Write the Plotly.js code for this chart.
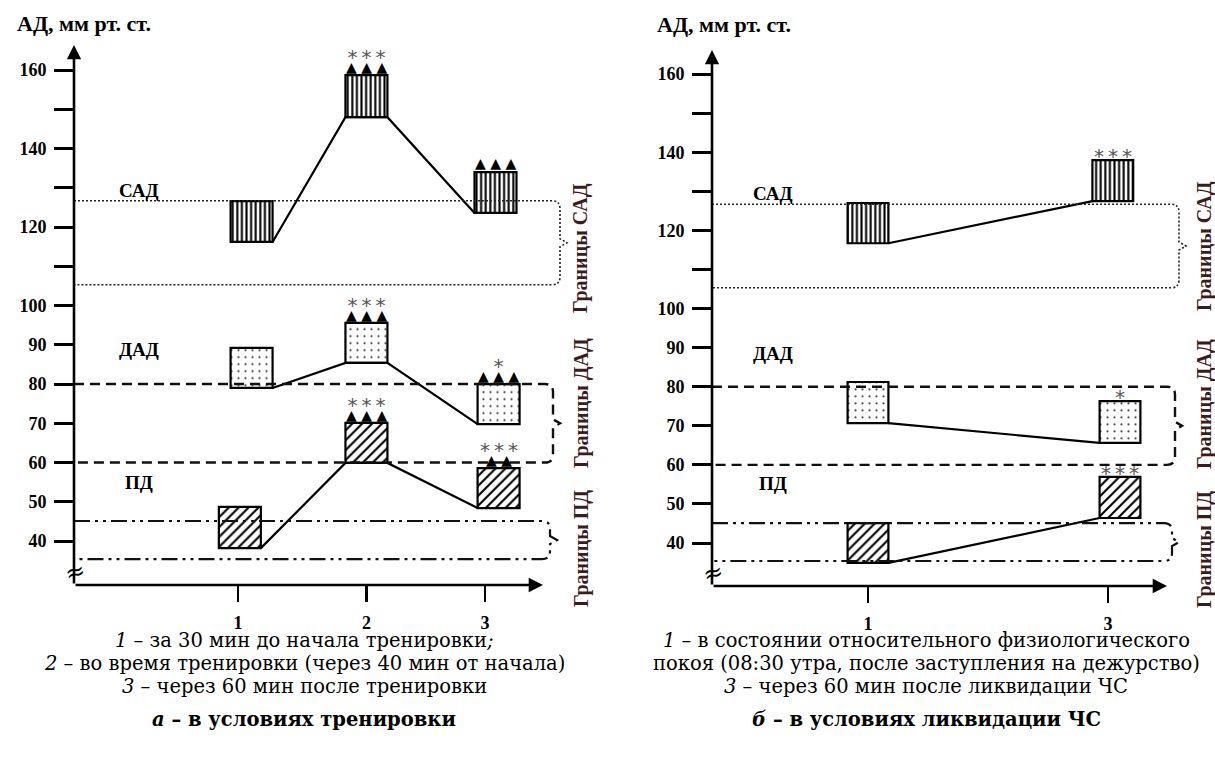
<!DOCTYPE html>
<html><head><meta charset="utf-8">
<script src="https://cdn.plot.ly/plotly-3.0.1.min.js"></script>
<style>html,body{margin:0;padding:0;background:#fff;} #chart{width:1215px;height:758px;}</style>
</head><body><div id="chart"></div>
<script>
// ===================== DATA =====================
// panel a – training
const timeLabelsA = ['1', '2', '3'];
const timePosA = [1, 2.04, 3];
const sadLowA  = [116.2, 148.0, 123.6];
const sadHighA = [126.6, 158.7, 134.0];
const dadLowA  = [79.0, 85.4, 69.8];
const dadHighA = [89.2, 95.6, 80.0];
const pdLowA   = [38.2, 59.9, 48.4];
const pdHighA  = [48.7, 70.1, 58.6];
const sadTriA  = ['', '▲▲▲', '▲▲▲'];
const sadStarA = ['', '***', ''];
const dadTriA  = ['', '▲▲▲', '▲▲▲'];
const dadStarA = ['', '***', '*'];
const pdTriA   = ['', '▲▲▲', '▲▲'];
const pdStarA  = ['', '***', '***'];

// panel b – emergency response
const timeLabelsB = ['1', '3'];
const timePosB = [1, 3];
const sadLowB  = [116.7, 127.5];
const sadHighB = [127.0, 138.0];
const dadLowB  = [70.7, 65.6];
const dadHighB = [81.2, 76.3];
const pdLowB   = [34.9, 46.4];
const pdHighB  = [45.1, 56.9];
const sadTriB  = ['', ''];
const sadStarB = ['', '***'];
const dadTriB  = ['', ''];
const dadStarB = ['', '*'];
const pdTriB   = ['', ''];
const pdStarB  = ['', '***'];

// normal bounds
const sadBounds = [105.3, 126.7];
const dadBounds = [60, 80];
const pdBounds  = [35.4, 45.1];

const yTickVals = [160, 150, 140, 130, 120, 110, 100, 90, 80, 70, 60, 50, 40];
const yTickText = ['160', '', '140', '', '120', '', '100', '90', '80', '70', '60', '50', '40'];

const regionNames = ['САД', 'ДАД', 'ПД'];
const boundNames = ['Границы САД', 'Границы ДАД', 'Границы ПД'];
const yTitle = 'АД, мм рт. ст.';
const captionA = ['<i>1</i> – за 30 мин до начала тренировки<i>;</i>',
                  '<i>2</i> – во время тренировки (через 40 мин от начала)',
                  '<i>3</i> – через 60 мин после тренировки',
                  '<b><i>а</i> – в условиях тренировки</b>'];
const captionB = ['<i>1</i> – в состоянии относительного физиологического',
                  'покоя (08:30 утра, после заступления на дежурство)',
                  '<i>3</i> – через 60 мин после ликвидации ЧС',
                  '<b><i>б</i> – в условиях ликвидации ЧС</b>'];

// ===================== LAYOUT / STYLE =====================
const W = 1215, H = 758;
const SERIF = 'Liberation Serif';
const CAPTION_FONT = 'DejaVu Serif';
const geomA = {axisX: 74, tick1X: 238, xPerUnit: 123.5, rightX: 600, bottomY: 585, yPerUnit: 3.925, yMin: 28.8, yMax: 168,
  yTipPx: 45, xTipPx: 543, boxW: 0.34,
  shift: {sad: [0.11, 0, 0.085], dad: [0.11, 0, 0.11], pd: [0.015, 0, 0.11]},
  bracketPx: {sad: 560, dad: 553, pd: 550}, labelX: 139, labelYPx: [190, 350, 482],
  boundX: 581, boundYPx: [248, 403, 549], headerX: 84, headerY: 23, captionX: 304, breakYPx: 572};
const geomB = {axisX: 712, tick1X: 868, xPerUnit: 120, rightX: 1212, bottomY: 586, yPerUnit: 3.908, yMin: 29, yMax: 168,
  yTipPx: 50, xTipPx: 1167, boxW: 0.34,
  shift: {sad: [0, 0.04], dad: [0, 0.1], pd: [0, 0.1]},
  bracketPx: {sad: 1179, dad: 1175, pd: 1172}, labelX: 773, labelYPx: [193, 353, 483],
  boundX: 1204, boundYPx: [246, 404, 550], headerX: 724, headerY: 25, captionX: 926, breakYPx: 573};
const captionYPx = [640, 663, 686, 719];

const patterns = {
  sad: {shape: '|', size: 4.6, solidity: 0.45, fgcolor: '#000', bgcolor: '#fff'},
  dad: {shape: '.', size: 7, solidity: 0.08, fgcolor: '#333', bgcolor: '#fff'},
  pd:  {shape: '/', size: 7, solidity: 0.3, fgcolor: '#000', bgcolor: '#fff'}
};
const boundStyle = {
  sad: {color: '#222', width: 1.6, dash: '2px,2px'},
  dad: {color: '#111', width: 2.4, dash: '10px,6px'},
  pd:  {color: '#111', width: 2.2, dash: '16px,5px,3px,5px,3px,5px'}
};

const px2x = px => px / W;
const px2y = py => 1 - py / H;
const starSpan = s => '<span style="font-size:20px;color:#555">' + s.split('').join('&#8201;') + '</span>';
const triSpan = s => '<span style="font-size:14px;color:#000">' + s.split('').join(' ') + '</span>';

const traces = [];
const shapes = [];
const annotations = [];
const layout = {
  width: W, height: H, margin: {l: 0, r: 0, t: 0, b: 0},
  paper_bgcolor: '#fff', plot_bgcolor: 'rgba(0,0,0,0)',
  showlegend: false, barmode: 'overlay',
  font: {family: SERIF, color: '#000'}
};

function paperText(xpx, ypx, text, font, extra) {
  annotations.push(Object.assign({xref: 'paper', yref: 'paper', x: px2x(xpx), y: px2y(ypx), text: text,
    showarrow: false, xanchor: 'center', yanchor: 'middle', font: font}, extra || {}));
}

function buildPanel(idx, g, pos, labels, series) {
  const xa = idx === 1 ? 'x' : 'x2', ya = idx === 1 ? 'y' : 'y2';
  const xKey = idx === 1 ? 'xaxis' : 'xaxis2', yKey = idx === 1 ? 'yaxis' : 'yaxis2';
  const xRange = [1 - (g.tick1X - g.axisX) / g.xPerUnit, 1 + (g.rightX - g.tick1X) / g.xPerUnit];
  const topPx = g.bottomY - (g.yMax - g.yMin) * g.yPerUnit;
  const toXv = px => 1 + (px - g.tick1X) / g.xPerUnit;
  const toYv = py => g.yMin + (g.bottomY - py) / g.yPerUnit;

  layout[xKey] = {domain: [px2x(g.axisX), px2x(g.rightX)], range: xRange, anchor: ya,
    showgrid: false, zeroline: false, showline: false, automargin: false,
    tickmode: 'array', tickvals: pos, ticktext: labels.map(t => '<b>' + t + '</b>'), ticks: 'outside', ticklen: 16, tickwidth: 2.5,
    tickcolor: '#000', ticklabelstandoff: 5,
    tickfont: {family: SERIF, size: 18, color: '#000'}};
  layout[yKey] = {domain: [px2y(g.bottomY), px2y(topPx)], range: [g.yMin, g.yMax], anchor: xa,
    showgrid: false, zeroline: false, showline: false, automargin: false,
    tickmode: 'array', tickvals: yTickVals, ticktext: yTickText.map(t => t ? '<b>' + t + '</b>' : ''), ticks: 'outside', ticklen: 19, tickwidth: 3,
    tickcolor: '#000', ticklabelstandoff: 4,
    tickfont: {family: SERIF, size: 18, color: '#000'}};

  // axis arrows
  annotations.push({xref: xa, yref: ya, axref: xa, ayref: ya, x: xRange[0], y: toYv(g.yTipPx),
    ax: xRange[0], ay: g.yMin, text: '', showarrow: true, arrowhead: 2, arrowsize: 1.1, arrowwidth: 2.6, arrowcolor: '#000', standoff: 0});
  annotations.push({xref: xa, yref: ya, axref: xa, ayref: ya, x: toXv(g.xTipPx), y: g.yMin,
    ax: xRange[0], ay: g.yMin, text: '', showarrow: true, arrowhead: 2, arrowsize: 1.1, arrowwidth: 2.6, arrowcolor: '#000', standoff: 0});
  // axis break mark
  paperText(g.axisX + 1, g.breakYPx, '≈', {family: 'DejaVu Serif', size: 24, color: '#000'}, {textangle: -15, borderpad: 0});

  series.forEach((s, k) => {
    const shift = g.shift[s.key];
    const centers = pos.map((p, i) => p + shift[i]);
    traces.push({type: 'bar', xaxis: xa, yaxis: ya, x: centers, base: s.lo,
      y: s.hi.map((h, i) => h - s.lo[i]), width: centers.map(() => g.boxW),
      marker: {color: '#fff', line: {color: '#000', width: 2.2}, pattern: patterns[s.key]},
      hoverinfo: 'skip'});
    const lx = [], ly = [];
    centers.forEach((c, i) => {
      if (i > 0) { lx.push(c - g.boxW / 2); ly.push(s.lo[i]); }
      if (i < centers.length - 1) { lx.push(c + g.boxW / 2); ly.push(s.lo[i]); }
    });
    traces.push({type: 'scatter', mode: 'lines', xaxis: xa, yaxis: ya, x: lx, y: ly,
      line: {color: '#000', width: 2.2}, hoverinfo: 'skip'});
    // significance marks: one annotation per box (stars above triangles)
    centers.forEach((c, i) => {
      const tri = s.tri[i], star = s.star[i];
      if (!tri && !star) return;
      let text, size, yshift;
      if (tri && star) { text = starSpan(star) + '<br>' + triSpan(tri); size = 6; yshift = -1; }
      else if (tri) { text = triSpan(tri); size = 14; yshift = 0; }
      else { text = starSpan(star); size = 20; yshift = -9; }
      annotations.push({xref: xa, yref: ya, x: c, y: s.hi[i], xanchor: 'center', yanchor: 'bottom', yshift: yshift,
        text: text, showarrow: false, borderpad: 0, font: {family: 'DejaVu Sans', size: size, color: '#000'}});
    });
    const b = s.bounds;
    const xr = toXv(g.bracketPx[s.key]);
    const rX = 8 / g.xPerUnit, rY = 8 / g.yPerUnit, tip = 7 / g.xPerUnit, dY = 4 / g.yPerUnit;
    const mid = (b[0] + b[1]) / 2;
    const path = `M${xRange[0]},${b[1]} L${xr - rX},${b[1]} Q${xr},${b[1]} ${xr},${b[1] - rY} ` +
      `L${xr},${mid + dY} L${xr + tip},${mid} L${xr},${mid - dY} L${xr},${b[0] + rY} ` +
      `Q${xr},${b[0]} ${xr - rX},${b[0]} L${xRange[0]},${b[0]}`;
    shapes.push({type: 'path', xref: xa, yref: ya, path: path, layer: 'above', line: boundStyle[s.key]});
    paperText(g.labelX, g.labelYPx[k], '<b>' + regionNames[k] + '</b>', {family: SERIF, size: 19, color: '#000'});
    paperText(g.boundX, g.boundYPx[k], '<b>' + boundNames[k] + '</b>', {family: SERIF, size: 20, color: '#3a1c1c'}, {textangle: -90, borderpad: 0});
  });

  paperText(g.headerX, g.headerY, '<b>' + yTitle + '</b>', {family: SERIF, size: 22, color: '#000'});
}

buildPanel(1, geomA, timePosA, timeLabelsA, [
  {key: 'sad', lo: sadLowA, hi: sadHighA, tri: sadTriA, star: sadStarA, bounds: sadBounds},
  {key: 'dad', lo: dadLowA, hi: dadHighA, tri: dadTriA, star: dadStarA, bounds: dadBounds},
  {key: 'pd',  lo: pdLowA,  hi: pdHighA,  tri: pdTriA,  star: pdStarA,  bounds: pdBounds}
]);
buildPanel(2, geomB, timePosB, timeLabelsB, [
  {key: 'sad', lo: sadLowB, hi: sadHighB, tri: sadTriB, star: sadStarB, bounds: sadBounds},
  {key: 'dad', lo: dadLowB, hi: dadHighB, tri: dadTriB, star: dadStarB, bounds: dadBounds},
  {key: 'pd',  lo: pdLowB,  hi: pdHighB,  tri: pdTriB,  star: pdStarB,  bounds: pdBounds}
]);

[[captionA, geomA.captionX], [captionB, geomB.captionX]].forEach(([lines, cx]) => {
  lines.forEach((t, i) => paperText(cx, captionYPx[i], t, {family: CAPTION_FONT, size: 19.5, color: '#000'}, {borderpad: 0}));
});

layout.shapes = shapes;
layout.annotations = annotations;
Plotly.newPlot('chart', traces, layout, {staticPlot: true, displayModeBar: false});
</script>
</body></html>
